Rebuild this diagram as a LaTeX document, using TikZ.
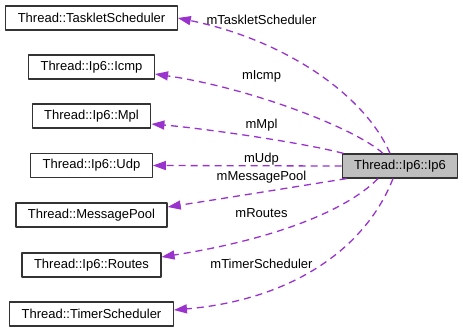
\documentclass[tikz,border=0pt]{standalone}
\usepackage{fontspec}
\setmainfont{Liberation Sans}
\usetikzlibrary{arrows.meta}
\definecolor{member}{HTML}{9A32CD}
\begin{document}
\begin{tikzpicture}[x=1pt, y=-1pt, line join=round, font=\fontsize{13}{15}\selectfont,
	cls/.style={draw=black!80, line width=1.2pt, fill=white, inner xsep=12pt, inner ysep=0pt, minimum height=24pt},
	use/.style={member, line width=1.3pt, dash pattern=on 7pt off 5pt, -{Triangle[length=13pt, width=9pt]}},
	lbl/.style={inner sep=0pt}]
	\useasboundingbox (0,0) rectangle (463,332);
	\foreach \n/\y/\t in {tasklet/18/TaskletScheduler, icmp/67/Ip6::Icmp, mpl/116/Ip6::Mpl, udp/165.5/Ip6::Udp, pool/215/MessagePool, routes/265/Ip6::Routes, timer/314/TimerScheduler}
		{\node[cls] (\n) at (91.5,\y) {Thread::\t};}
	\node[cls, fill=gray!50] (ip6) at (400,166) {Thread::Ip6::Ip6};
	\draw[use] ([xshift=-10pt]ip6.north) .. controls (365,95) and (285,40) .. (tasklet.east);
	\draw[use] ([xshift=-17pt]ip6.north) .. controls (355,128) and (250,88) .. ([yshift=-7pt]icmp.east);
	\draw[use] ([xshift=2pt]ip6.north west) .. controls (300,142) and (200,128) .. ([yshift=-8pt]mpl.east);
	\draw[use] (ip6.west) -- (udp.east);
	\draw[use] ([xshift=5pt]ip6.south west) .. controls (300,186) and (220,199) .. ([yshift=8pt]pool.east);
	\draw[use] ([xshift=-22pt]ip6.south) .. controls (345,212) and (270,240) .. ([yshift=8pt]routes.east);
	\draw[use] ([xshift=-7pt]ip6.south) .. controls (365,250) and (290,300) .. ([yshift=4pt]timer.east);
	\foreach \n/\y/\t in {ltasklet/20/mTaskletScheduler, licmp/76/mIcmp, lmpl/125/mMpl, ludp/159/mUdp, lpool/177/mMessagePool, lroutes/213/mRoutes, ltimer/264/mTimerScheduler}
		{\node[lbl] (\n) at (261.5,\y) {\t};}
\end{tikzpicture}
\end{document}
